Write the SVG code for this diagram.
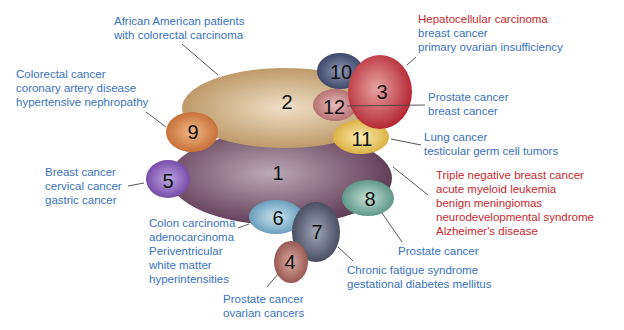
<svg xmlns="http://www.w3.org/2000/svg" width="624" height="330" viewBox="0 0 624 330">
<style>
.t{font-family:"Liberation Sans",Arial,sans-serif;font-size:11.5px;fill:#3872c0}
.r{fill:#c8282e}
.n{font-family:"Liberation Sans",Arial,sans-serif;font-size:20px;fill:#111;text-anchor:middle;dominant-baseline:central}
.c line{stroke:#444;stroke-width:0.9}
</style>
<defs>
<radialGradient id="g1" cx="45%" cy="45%" r="60%"><stop offset="0" stop-color="#bcaab6"/><stop offset="1" stop-color="#5a3450"/></radialGradient>
<radialGradient id="g2" cx="50%" cy="50%" r="60%"><stop offset="0" stop-color="#efe0c6"/><stop offset="1" stop-color="#b48c58"/></radialGradient>
<radialGradient id="g3" cx="45%" cy="45%" r="60%"><stop offset="0" stop-color="#e8a4a4"/><stop offset="1" stop-color="#b01e2a"/></radialGradient>
<radialGradient id="g10" cx="50%" cy="50%" r="60%"><stop offset="0" stop-color="#9098b4"/><stop offset="1" stop-color="#2c385c"/></radialGradient>
<radialGradient id="g12" cx="50%" cy="50%" r="60%"><stop offset="0" stop-color="#e8bcbc"/><stop offset="1" stop-color="#ac6262"/></radialGradient>
<radialGradient id="g11" cx="50%" cy="50%" r="60%"><stop offset="0" stop-color="#fcecb0"/><stop offset="1" stop-color="#d6a630"/></radialGradient>
<radialGradient id="g9" cx="50%" cy="50%" r="60%"><stop offset="0" stop-color="#f2b888"/><stop offset="1" stop-color="#be6228"/></radialGradient>
<radialGradient id="g5" cx="50%" cy="50%" r="60%"><stop offset="0" stop-color="#bca6e2"/><stop offset="1" stop-color="#6a3a9e"/></radialGradient>
<radialGradient id="g8" cx="50%" cy="50%" r="60%"><stop offset="0" stop-color="#c6e0d4"/><stop offset="1" stop-color="#4a8a7a"/></radialGradient>
<radialGradient id="g6" cx="50%" cy="50%" r="60%"><stop offset="0" stop-color="#cce4ee"/><stop offset="1" stop-color="#5692b4"/></radialGradient>
<radialGradient id="g7" cx="50%" cy="50%" r="60%"><stop offset="0" stop-color="#a2a6b8"/><stop offset="1" stop-color="#383c52"/></radialGradient>
<radialGradient id="g4" cx="50%" cy="50%" r="60%"><stop offset="0" stop-color="#dcaca4"/><stop offset="1" stop-color="#8a4842"/></radialGradient>
</defs>
<rect width="624" height="330" fill="#fff"/>

<g id="n1"><ellipse cx="281" cy="178" rx="111" ry="47" fill="url(#g1)"/><text class="n" x="278" y="173">1</text></g>
<g id="n2"><ellipse cx="285" cy="108" rx="103" ry="40" fill="url(#g2)"/><text class="n" x="287" y="102">2</text></g>
<g id="n10"><ellipse cx="340" cy="71" rx="23" ry="18" fill="url(#g10)"/><text class="n" x="341" y="72">10</text></g>
<g id="n12"><ellipse cx="335" cy="105" rx="22" ry="16" fill="url(#g12)"/><text class="n" x="334" y="107">12</text></g>
<g id="n11"><ellipse cx="361" cy="137" rx="28" ry="17" fill="url(#g11)"/><text class="n" x="362" y="139">11</text></g>
<g id="n3"><ellipse cx="380" cy="92" rx="32" ry="37" fill="url(#g3)"/><text class="n" x="382" y="92">3</text></g>
<g id="n9"><ellipse cx="192" cy="132" rx="26" ry="20" fill="url(#g9)"/><text class="n" x="193" y="132">9</text></g>
<g id="n5"><ellipse cx="168" cy="179" rx="22" ry="19" fill="url(#g5)"/><text class="n" x="168" y="181">5</text></g>
<g id="n8"><ellipse cx="368" cy="198" rx="26" ry="18" fill="url(#g8)"/><text class="n" x="370" y="199">8</text></g>
<g id="n6"><ellipse cx="276" cy="217" rx="27" ry="17" fill="url(#g6)"/><text class="n" x="278" y="218">6</text></g>
<g id="n7"><ellipse cx="316" cy="232" rx="24" ry="30" fill="url(#g7)"/><text class="n" x="317" y="232">7</text></g>
<g id="n4"><ellipse cx="291" cy="262" rx="17" ry="21" fill="url(#g4)"/><text class="n" x="290" y="262">4</text></g>

<g id="connectors" class="c">
<line x1="182" y1="44" x2="218" y2="75"/>
<line x1="146" y1="112" x2="166" y2="127"/>
<line x1="128" y1="186" x2="144" y2="183"/>
<line x1="407" y1="65" x2="416" y2="57"/>
<line x1="347" y1="106" x2="425" y2="105"/>
<line x1="391" y1="139" x2="421" y2="145"/>
<line x1="393" y1="167" x2="428" y2="195"/>
<line x1="382" y1="213" x2="402" y2="242"/>
<line x1="338" y1="247" x2="353" y2="261"/>
<line x1="278" y1="274" x2="267" y2="287"/>
<line x1="238" y1="228" x2="249" y2="224"/>
</g>

<g id="labels">
<text class="t" x="114" y="25">African American patients</text>
<text class="t" x="114" y="38.5">with colorectal carcinoma</text>
<text class="t r" x="418" y="23">Hepatocellular carcinoma</text>
<text class="t" x="418" y="37">breast cancer</text>
<text class="t" x="418" y="51">primary ovarian insufficiency</text>
<text class="t" x="16" y="78">Colorectal cancer</text>
<text class="t" x="16" y="92">coronary artery disease</text>
<text class="t" x="16" y="106">hypertensive nephropathy</text>
<text class="t" x="428" y="101">Prostate cancer</text>
<text class="t" x="428" y="114.5">breast cancer</text>
<text class="t" x="424" y="140.5">Lung cancer</text>
<text class="t" x="424" y="155">testicular germ cell tumors</text>
<text class="t" x="45" y="176">Breast cancer</text>
<text class="t" x="45" y="189.5">cervical cancer</text>
<text class="t" x="45" y="203.5">gastric cancer</text>
<text class="t r" x="436" y="179">Triple negative breast cancer</text>
<text class="t r" x="436" y="193">acute myeloid leukemia</text>
<text class="t r" x="436" y="207">benign meningiomas</text>
<text class="t r" x="436" y="221">neurodevelopmental syndrome</text>
<text class="t r" x="436" y="235">Alzheimer's disease</text>
<text class="t" x="149" y="227">Colon carcinoma</text>
<text class="t" x="149" y="240.5">adenocarcinoma</text>
<text class="t" x="149" y="254.5">Periventricular</text>
<text class="t" x="149" y="268.5">white matter</text>
<text class="t" x="149" y="282.5">hyperintensities</text>
<text class="t" x="398" y="255">Prostate cancer</text>
<text class="t" x="347" y="274">Chronic fatigue syndrome</text>
<text class="t" x="347" y="287.5">gestational diabetes mellitus</text>
<text class="t" x="223" y="303">Prostate cancer</text>
<text class="t" x="223" y="316.5">ovarian cancers</text>
</g>
</svg>
